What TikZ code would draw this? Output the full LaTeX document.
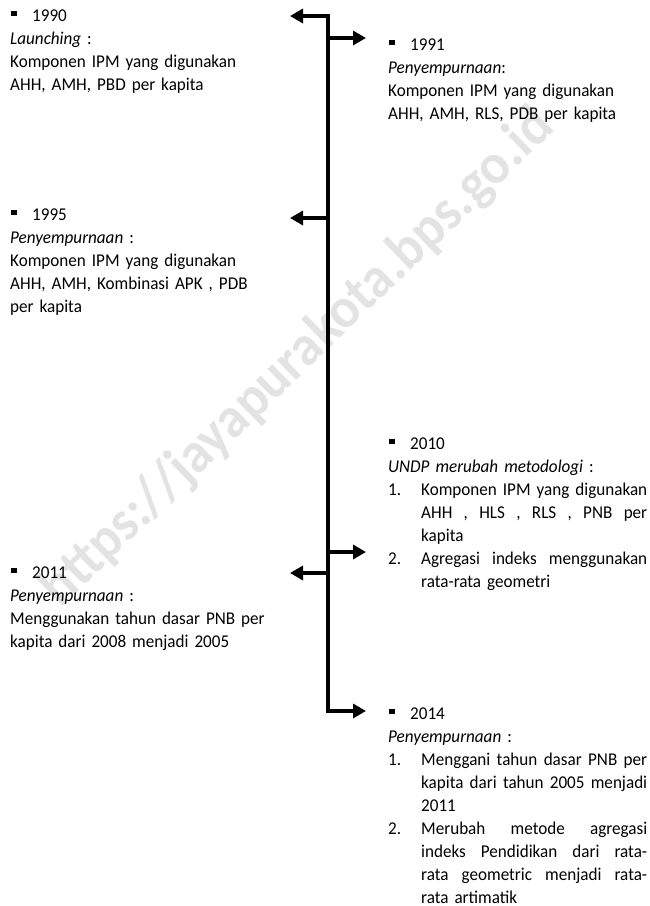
\documentclass[tikz,border=0pt]{standalone}
\usepackage{fontspec}
\setmainfont{Carlito}[FakeStretch=0.95]
\usetikzlibrary{arrows.meta,positioning}

\newcommand{\bul}{\hspace*{1pt}\rule[5pt]{5.5pt}{5.5pt}\hspace{15.5pt}}
\newcommand{\nr}[1]{\makebox[33pt][l]{#1}}
\newcommand{\jl}[1]{\makebox[226pt][s]{\spaceskip=\fontdimen2\font plus 1fil\relax #1}}
\newcommand{\ind}{\hspace*{33pt}}

\begin{document}
\begin{tikzpicture}
[x=1pt,y=-1pt,>={Triangle[length=13pt,width=14pt]},
 every node/.style={inner sep=0pt,anchor=base west,align=left,font=\fontsize{18}{23}\selectfont},
 leftbox/.style={text width=300pt},
 rightbox/.style={text width=260pt},
 spine/.style={line width=4pt,line join=miter}]
\useasboundingbox (0,0) rectangle (650,906);

% watermark
\node[anchor=center,rotate=44,text=black!11,font=\fontsize{57}{57}\selectfont\bfseries] (wm) at (298,358) {https://jayapurakota.bps.go.id};

% texts
\node[leftbox] (n1990) at (10,21) {\bul 1990\\
\textit{Launching} :\\
Komponen IPM yang digunakan\\
AHH, AMH, PBD per kapita};
\node[rightbox] (n1991) at (388,50) {\bul 1991\\
\textit{Penyempurnaan}:\\
Komponen IPM yang digunakan\\
AHH, AMH, RLS, PDB per kapita};
\node[leftbox] (n1995) at (10,220) {\bul 1995\\
\textit{Penyempurnaan} :\\
Komponen IPM yang digunakan\\
AHH, AMH, Kombinasi APK , PDB\\
per kapita};
\node[rightbox] (n2010) at (388,449) {\bul 2010\\
\textit{UNDP merubah metodologi} :\\
\nr{1.}\jl{Komponen IPM yang digunakan}\\
\ind\jl{AHH , HLS , RLS , PNB per}\\
\ind kapita\\
\nr{2.}\jl{Agregasi indeks menggunakan}\\
\ind rata-rata geometri};
\node[leftbox] (n2011) at (10,578) {\bul 2011\\
\textit{Penyempurnaan} :\\
Menggunakan tahun dasar PNB per\\
kapita dari 2008 menjadi 2005};
\node[rightbox] (n2014) at (388,719) {\bul 2014\\
\textit{Penyempurnaan} :\\
\nr{1.}\jl{Menggani tahun dasar PNB per}\\
\ind\jl{kapita dari tahun 2005 menjadi}\\
\ind 2011\\
\nr{2.}\jl{Merubah metode agregasi}\\
\ind\jl{indeks Pendidikan dari rata-}\\
\ind\jl{rata geometric menjadi rata-}\\
\ind rata artimatik};

% timeline
\coordinate (top) at (328,16);
\coordinate (bot) at (328,711);
\coordinate (t1990) at (290,16);
\coordinate (t2014) at (366,711);
\coordinate (s1991) at (328,38);
\coordinate (t1991) at (366,38);
\coordinate (s1995) at (328,218);
\coordinate (t1995) at (290,218);
\coordinate (s2010) at (328,552);
\coordinate (t2010) at (366,552);
\coordinate (s2011) at (328,573);
\coordinate (t2011) at (290,573);

\draw[spine,<->] (t1990) -- (top) -- (bot) -- (t2014);
\path
  (s1991) edge[spine,->] (t1991)
  (s1995) edge[spine,->] (t1995)
  (s2010) edge[spine,->] (t2010)
  (s2011) edge[spine,->] (t2011);

\end{tikzpicture}
\end{document}
